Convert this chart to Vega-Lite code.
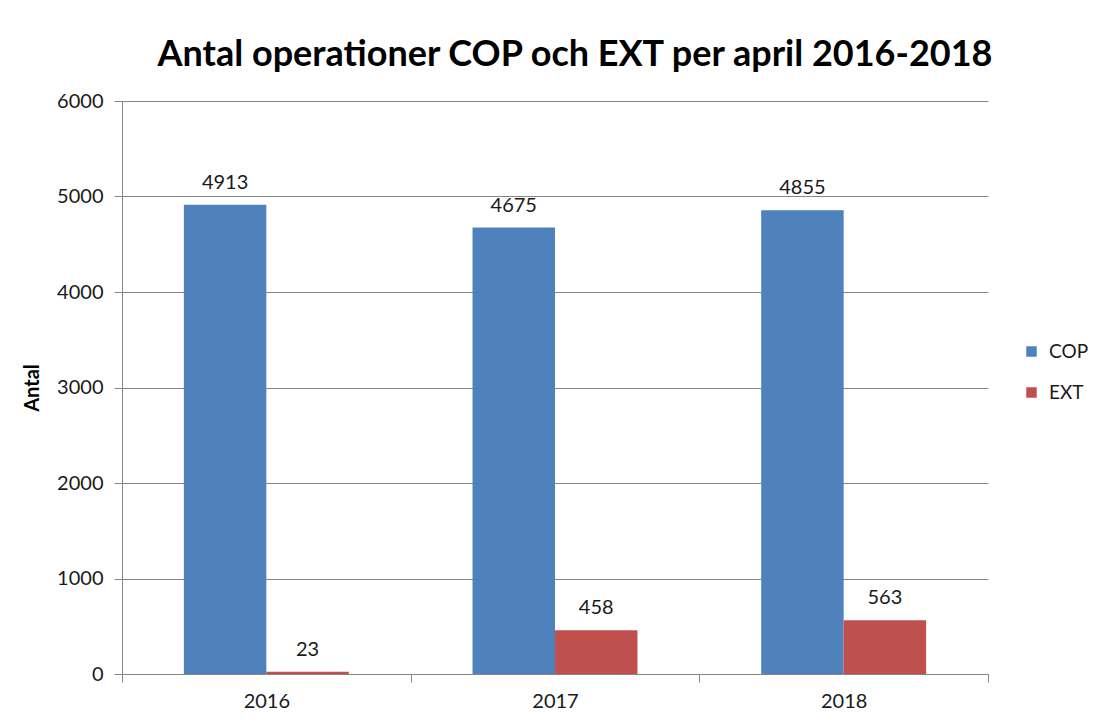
{
  "$schema": "https://vega.github.io/schema/vega-lite/v6.json",
  "width": 866,
  "height": 573,
  "autosize": {"type": "none"},
  "padding": {"left": 122, "top": 101, "right": 112, "bottom": 48},
  "background": "white",
  "title": {
    "text": "Antal operationer COP och EXT per april 2016-2018",
    "font": "Lato",
    "fontSize": 36,
    "fontWeight": "bold",
    "color": "#000000",
    "anchor": "middle",
    "dx": 20,
    "offset": 17
  },
  "data": {
    "values": [
      {"year": "2016", "type": "COP", "value": 4913},
      {"year": "2016", "type": "EXT", "value": 23},
      {"year": "2017", "type": "COP", "value": 4675},
      {"year": "2017", "type": "EXT", "value": 458},
      {"year": "2018", "type": "COP", "value": 4855},
      {"year": "2018", "type": "EXT", "value": 563}
    ]
  },
  "encoding": {
    "x": {
      "field": "year",
      "type": "nominal",
      "scale": {"paddingInner": 0, "paddingOuter": 0},
      "axis": {
        "title": null,
        "labelAngle": 0,
        "labelFont": "Lato",
        "labelFontSize": 20,
        "labelColor": "#1a1a1a",
        "labelPadding": 9,
        "tickBand": "extent",
        "tickSize": 8,
        "tickColor": "#868686",
        "domainColor": "#868686",
        "grid": false
      }
    },
    "xOffset": {
      "field": "type",
      "type": "nominal",
      "scale": {"paddingOuter": 0.75, "paddingInner": 0}
    },
    "y": {
      "field": "value",
      "type": "quantitative",
      "scale": {"domain": [0, 6000], "nice": false},
      "axis": {
        "title": "Antal",
        "titleFont": "Lato",
        "titleFontSize": 20,
        "titleFontWeight": "bold",
        "titleColor": "#000000",
        "titlePadding": 14,
        "values": [0, 1000, 2000, 3000, 4000, 5000, 6000],
        "format": "d",
        "labelFont": "Lato",
        "labelFontSize": 20,
        "labelColor": "#1a1a1a",
        "labelPadding": 11,
        "tickSize": 8,
        "tickColor": "#868686",
        "domainColor": "#868686",
        "gridColor": "#868686",
        "gridWidth": 1
      }
    },
    "color": {
      "field": "type",
      "type": "nominal",
      "scale": {"domain": ["COP", "EXT"], "range": ["#4F81BD", "#C0504D"]},
      "legend": {
        "title": null,
        "orient": "none",
        "legendX": 900,
        "legendY": 241,
        "symbolType": "square",
        "symbolSize": 110,
        "symbolStrokeWidth": 0,
        "labelFont": "Lato",
        "labelFontSize": 19,
        "labelColor": "#1a1a1a",
        "rowPadding": 21,
        "labelOffset": 8
      }
    }
  },
  "layer": [
    {"mark": {"type": "bar"}},
    {
      "mark": {"type": "text", "baseline": "bottom", "dy": -12, "font": "Lato", "fontSize": 20, "color": "#1a1a1a"},
      "encoding": {
        "text": {"field": "value", "type": "quantitative", "format": "d"},
        "color": {"value": "#1a1a1a"}
      }
    }
  ],
  "config": {
    "view": {"stroke": null}
  }
}
